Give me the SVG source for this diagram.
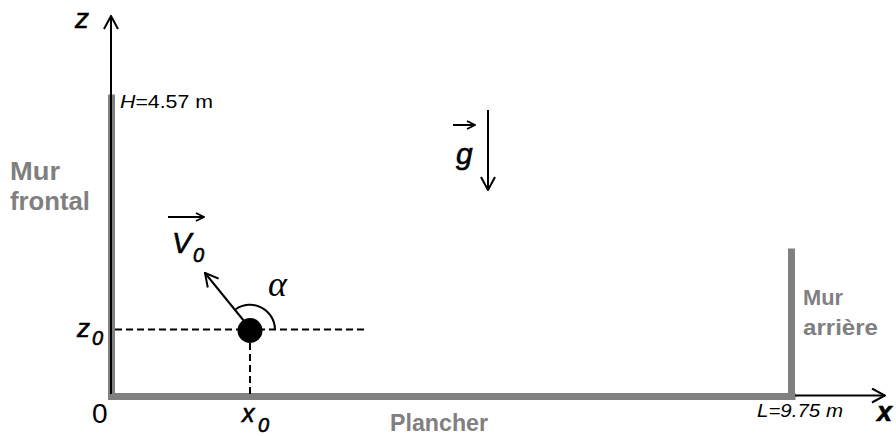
<svg xmlns="http://www.w3.org/2000/svg" width="896" height="436" viewBox="0 0 896 436">
<style>
.wall{stroke:#808080;stroke-width:7;fill:none;stroke-linecap:square}
.ax{stroke:#000;stroke-width:2;fill:none}
.dash{stroke:#000;stroke-width:2;stroke-dasharray:7 4;fill:none}
.lbl{font-family:"Liberation Sans",Arial,sans-serif;fill:#000}
.it{font-style:italic;stroke:#000;stroke-width:0.6}
.gray{font-family:"Liberation Sans",Arial,sans-serif;font-weight:bold;fill:#808080}
</style>
<defs>
<marker id="ah" markerUnits="userSpaceOnUse" viewBox="0 0 16 16" markerWidth="16" markerHeight="16" refX="15" refY="8" orient="auto">
<path d="M2,1 L15,8 L2,15" fill="none" stroke="#000" stroke-width="2"/>
</marker>
<marker id="ahs" markerUnits="userSpaceOnUse" viewBox="0 0 10 10" markerWidth="10" markerHeight="10" refX="9" refY="5" orient="auto">
<path d="M1,1 L9,5 L1,9" fill="none" stroke="#000" stroke-width="1.8"/>
</marker>
</defs>

<g id="walls">
<path class="wall" d="M111.5,98 V396.5 H792"/>
<path class="wall" d="M791.5,252 V396.5"/>
</g>

<g id="connectors">
<line class="ax" x1="111" y1="394" x2="111" y2="16" marker-end="url(#ah)"/>
<line class="ax" x1="795" y1="395.5" x2="885" y2="395.5" marker-end="url(#ah)"/>
<line class="dash" x1="115" y1="329.5" x2="366" y2="329.5"/>
<line class="dash" x1="250" y1="343" x2="250" y2="396"/>
<line class="ax" x1="244" y1="321" x2="205" y2="273" stroke-width="2.5" marker-end="url(#ah)"/>
<path class="ax" d="M275,329.5 A25,25 0 0 0 235.7,309.3"/>
<line class="ax" x1="488" y1="110" x2="488" y2="190" marker-end="url(#ah)"/>
<line class="ax" x1="168" y1="217" x2="204" y2="217" marker-end="url(#ahs)"/>
<line class="ax" x1="453" y1="125" x2="475" y2="125" marker-end="url(#ahs)"/>
</g>

<g id="ball">
<circle cx="250" cy="330.5" r="12.5" fill="#000"/>
</g>

<g id="labels">
<text class="lbl it" x="75" y="28" font-size="28">z</text>
<text class="lbl" x="120" y="108" font-size="18" textLength="93" lengthAdjust="spacingAndGlyphs"><tspan font-style="italic">H</tspan>=4.57 m</text>
<text class="lbl it" x="172" y="253" font-size="29">V</text>
<text class="lbl it" x="193" y="262" font-size="20">0</text>
<text font-family="'Liberation Serif',serif" font-style="italic" x="268" y="296" font-size="36" fill="#000">α</text>
<text class="lbl it" x="456" y="164" font-size="30">g</text>
<text class="lbl it" x="77" y="337" font-size="26">z</text>
<text class="lbl it" x="92" y="345" font-size="20">0</text>
<text class="lbl" x="92" y="423" font-size="28">0</text>
<text class="lbl it" x="242" y="422" font-size="25">x</text>
<text class="lbl it" x="258" y="432" font-size="20">0</text>
<text class="lbl" font-style="italic" x="757" y="417" font-size="18" textLength="86" lengthAdjust="spacingAndGlyphs">L=9.75 m</text>
<text class="lbl it" x="877" y="421" font-size="27" font-weight="bold">x</text>
</g>

<g id="wall-labels">
<text class="gray" x="10" y="180" font-size="25" textLength="50" lengthAdjust="spacingAndGlyphs">Mur</text>
<text class="gray" x="10" y="210" font-size="25" textLength="80" lengthAdjust="spacingAndGlyphs">frontal</text>
<text class="gray" x="803" y="305" font-size="22" textLength="40" lengthAdjust="spacingAndGlyphs">Mur</text>
<text class="gray" x="803" y="335" font-size="22" textLength="75" lengthAdjust="spacingAndGlyphs">arrière</text>
<text class="gray" x="390" y="431" font-size="23" textLength="98" lengthAdjust="spacingAndGlyphs">Plancher</text>
</g>
</svg>
